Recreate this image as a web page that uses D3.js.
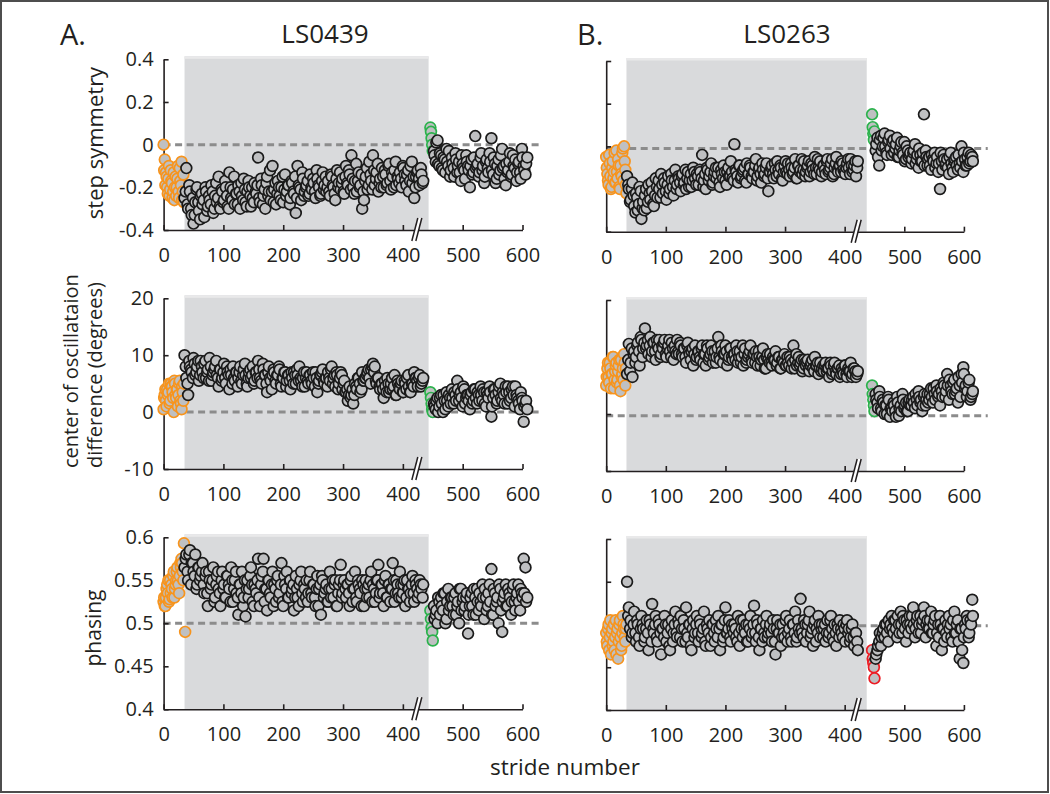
<!DOCTYPE html>
<html>
<head>
<meta charset="utf-8">
<script src="https://cdn.jsdelivr.net/npm/d3@7"></script>
<style>
  body { margin: 0; background: #fff; }
  svg { display: block; }
  text { font-family: "Open Sans", "Noto Sans", sans-serif; fill: #231f20; }
</style>
</head>
<body>
<svg id="chart" width="1050" height="794"></svg>
<script>
// stride numbering of each block of samples (two interleaved sample sets per phase)
const baseStart = 0, base2Start = 1, baseStep = 2;
const adaptStart = 35, adapt2Start = 37, adaptStep = 3;
const earlyStart = 446, earlyStep = 1;
const postStart = 452, post2Start = 453, postStep = 3;

const xTicks = [0, 100, 200, 300, 400, 500, 600];
const stepTicks = [-0.4, -0.2, 0, 0.2, 0.4];
const centerTicks = [-10, 0, 10, 20];
const phaseTicks = [0.4, 0.45, 0.5, 0.55, 0.6];

// ---- A. LS0439 step symmetry
const aStepBase = [0,-0.07,-0.13,-0.2,-0.16,-0.24,-0.12,-0.18,-0.22,-0.26,-0.15,-0.2,-0.1,-0.25,-0.17,-0.08,-0.22,-0.27];
const aStepBase2 = [-0.12,-0.19,-0.15,-0.23,-0.1,-0.21,-0.17,-0.25,-0.13,-0.2,-0.24,-0.16,-0.22,-0.11,-0.19,-0.26,-0.14];
const aStepAdapt = [
  -0.25,-0.11,-0.3,-0.22,-0.33,-0.37,-0.27,-0.2,-0.31,-0.24,
  -0.28,-0.34,-0.22,-0.29,-0.26,-0.19,-0.32,-0.24,-0.27,-0.15,
  -0.3,-0.22,-0.26,-0.2,-0.29,-0.13,-0.25,-0.21,-0.28,-0.23,
  -0.19,-0.3,-0.24,-0.16,-0.27,-0.22,-0.2,-0.29,-0.25,-0.18,
  -0.23,-0.06,-0.27,-0.19,-0.24,-0.3,-0.15,-0.22,-0.26,-0.1,
  -0.21,-0.28,-0.17,-0.24,-0.2,-0.27,-0.14,-0.22,-0.19,-0.25,
  -0.18,-0.23,-0.32,-0.1,-0.2,-0.26,-0.16,-0.22,-0.19,-0.24,
  -0.14,-0.21,-0.18,-0.25,-0.16,-0.2,-0.23,-0.13,-0.19,-0.22,
  -0.17,-0.24,-0.15,-0.2,-0.26,-0.12,-0.18,-0.21,-0.16,-0.23,
  -0.1,-0.19,-0.14,-0.05,-0.2,-0.17,-0.22,-0.13,-0.19,-0.3,
  -0.26,-0.15,-0.21,-0.08,-0.17,-0.05,-0.19,-0.13,-0.22,-0.16,
  -0.11,-0.2,-0.14,-0.18,-0.09,-0.21,-0.15,-0.12,-0.19,-0.16,
  -0.13,-0.2,-0.11,-0.17,-0.14,-0.22,-0.1,-0.18,-0.25,-0.15,
  -0.12,-0.19,-0.14,-0.17];
const aStepAdapt2 = [
  -0.22,-0.28,-0.19,-0.3,-0.25,-0.33,-0.21,-0.27,-0.35,-0.23,
  -0.26,-0.2,-0.31,-0.24,-0.28,-0.22,-0.3,-0.18,-0.25,-0.29,
  -0.21,-0.27,-0.17,-0.24,-0.3,-0.2,-0.26,-0.15,-0.23,-0.28,
  -0.22,-0.18,-0.26,-0.21,-0.29,-0.17,-0.24,-0.2,-0.27,-0.22,
  -0.19,-0.25,-0.16,-0.28,-0.21,-0.18,-0.24,-0.12,-0.22,-0.27,
  -0.18,-0.23,-0.2,-0.26,-0.15,-0.21,-0.24,-0.19,-0.28,-0.17,
  -0.22,-0.15,-0.25,-0.19,-0.21,-0.13,-0.24,-0.2,-0.17,-0.23,
  -0.2,-0.16,-0.22,-0.12,-0.19,-0.24,-0.17,-0.21,-0.15,-0.2,
  -0.22,-0.14,-0.19,-0.23,-0.16,-0.2,-0.13,-0.18,-0.22,-0.15,
  -0.18,-0.12,-0.21,-0.16,-0.23,-0.09,-0.17,-0.2,-0.14,-0.22,
  -0.17,-0.11,-0.19,-0.14,-0.21,-0.12,-0.16,-0.09,-0.18,-0.2,
  -0.15,-0.12,-0.19,-0.1,-0.17,-0.13,-0.2,-0.08,-0.15,-0.18,
  -0.16,-0.1,-0.14,-0.19,-0.12,-0.17,-0.08,-0.15,-0.2,-0.13,
  -0.16,-0.11,-0.18];
const aStepEarly = [0.08,0.06,0.03,0.0,-0.03];
const aStepPost = [
  -0.03,-0.08,0.02,-0.1,-0.05,-0.12,-0.07,-0.02,-0.1,-0.15,
  -0.06,-0.11,-0.04,-0.13,-0.08,-0.17,-0.09,-0.12,-0.05,-0.1,
  -0.2,-0.07,-0.13,0.04,-0.1,-0.15,-0.06,-0.12,-0.18,-0.08,
  -0.11,-0.04,0.03,-0.14,-0.09,-0.16,-0.07,-0.12,-0.02,-0.1,
  -0.19,-0.13,-0.08,-0.15,-0.05,-0.11,-0.17,-0.09,-0.13,-0.02,
  -0.1,-0.14,-0.06];
const aStepPost2 = [
  -0.05,0.01,-0.09,-0.04,-0.11,-0.06,-0.13,-0.08,-0.03,-0.12,
  -0.09,-0.15,-0.07,-0.1,-0.13,-0.05,-0.11,-0.16,-0.08,-0.12,
  -0.1,-0.14,-0.06,-0.11,-0.09,-0.13,-0.04,-0.1,-0.15,-0.07,
  -0.13,-0.08,-0.12,-0.06,-0.18,-0.1,-0.14,-0.05,-0.11,-0.16,
  -0.09,-0.12,-0.04,-0.14,-0.1,-0.07,-0.13,-0.08,-0.16,-0.06,
  -0.12,-0.09];

// ---- B. LS0263 step symmetry
const bStepBase = [-0.05,-0.13,-0.18,-0.08,-0.2,-0.1,-0.15,-0.03,-0.17,-0.12,-0.06,-0.19,-0.09,-0.14,-0.01,0.0,-0.11,-0.22];
const bStepBase2 = [-0.1,-0.16,-0.04,-0.14,-0.19,-0.07,-0.12,-0.17,-0.02,-0.15,-0.09,-0.2,-0.13,-0.03,-0.16,-0.07,-0.18];
const bStepAdapt = [
  -0.14,-0.2,-0.25,-0.17,-0.28,-0.22,-0.3,-0.19,-0.34,-0.26,
  -0.23,-0.29,-0.18,-0.25,-0.21,-0.28,-0.15,-0.24,-0.2,-0.13,
  -0.22,-0.17,-0.25,-0.14,-0.2,-0.16,-0.23,-0.11,-0.18,-0.15,
  -0.21,-0.13,-0.17,-0.2,-0.12,-0.16,-0.19,-0.1,-0.15,-0.13,
  -0.18,-0.12,-0.04,-0.16,-0.2,-0.11,-0.14,-0.08,-0.17,-0.12,
  -0.15,-0.1,-0.19,-0.13,-0.09,-0.16,-0.12,-0.14,-0.07,-0.15,
  0.01,-0.12,-0.17,-0.09,-0.14,-0.11,-0.16,-0.08,-0.13,-0.1,
  -0.15,-0.12,-0.06,-0.14,-0.1,-0.17,-0.11,-0.13,-0.08,-0.21,
  -0.12,-0.09,-0.15,-0.11,-0.07,-0.13,-0.1,-0.16,-0.09,-0.12,
  -0.08,-0.14,-0.1,-0.12,-0.06,-0.15,-0.09,-0.11,-0.13,-0.07,
  -0.12,-0.09,-0.14,-0.08,-0.11,-0.05,-0.13,-0.1,-0.07,-0.12,
  -0.09,-0.13,-0.06,-0.11,-0.08,-0.14,-0.1,-0.05,-0.12,-0.09,
  -0.07,-0.11,-0.13,-0.08,-0.1,-0.06,-0.12,-0.09,-0.14,-0.07];
const bStepAdapt2 = [
  -0.18,-0.26,-0.2,-0.23,-0.31,-0.24,-0.27,-0.21,-0.29,-0.3,
  -0.2,-0.26,-0.22,-0.17,-0.27,-0.23,-0.19,-0.16,-0.24,-0.18,
  -0.15,-0.21,-0.18,-0.22,-0.13,-0.19,-0.16,-0.2,-0.14,-0.17,
  -0.14,-0.18,-0.11,-0.15,-0.19,-0.13,-0.16,-0.12,-0.18,-0.14,
  -0.11,-0.15,-0.19,-0.13,-0.1,-0.16,-0.12,-0.18,-0.14,-0.1,
  -0.13,-0.17,-0.11,-0.15,-0.12,-0.18,-0.1,-0.14,-0.12,-0.16,
  -0.11,-0.14,-0.09,-0.15,-0.12,-0.1,-0.17,-0.13,-0.09,-0.14,
  -0.12,-0.09,-0.16,-0.11,-0.13,-0.08,-0.14,-0.1,-0.15,-0.12,
  -0.1,-0.13,-0.08,-0.14,-0.11,-0.09,-0.15,-0.12,-0.07,-0.13,
  -0.11,-0.08,-0.13,-0.1,-0.15,-0.09,-0.12,-0.06,-0.11,-0.14,
  -0.1,-0.07,-0.12,-0.09,-0.13,-0.1,-0.06,-0.11,-0.14,-0.09,
  -0.11,-0.07,-0.12,-0.1,-0.06,-0.13,-0.08,-0.11,-0.09,-0.12,
  -0.08,-0.12,-0.1,-0.06,-0.13,-0.09,-0.11,-0.07,-0.1];
const bStepEarly = [0.15,0.09,0.06,0.03,0.07];
const bStepPost = [
  -0.02,0.04,-0.09,0.05,0.0,0.06,-0.03,0.02,0.05,-0.04,
  0.03,-0.01,0.04,-0.05,0.0,-0.03,0.02,-0.06,-0.02,-0.04,
  -0.08,-0.03,0.01,-0.06,-0.1,-0.04,-0.07,0.15,-0.02,-0.09,
  -0.05,-0.11,-0.06,-0.03,-0.08,-0.12,-0.2,-0.07,-0.04,-0.09,
  -0.06,-0.13,-0.03,-0.1,-0.07,-0.05,-0.11,-0.08,0.0,-0.12,
  -0.06,-0.09,-0.03,-0.07,-0.05];
const bStepPost2 = [
  0.01,-0.05,0.03,-0.02,0.04,0.0,-0.04,0.03,-0.01,0.02,
  -0.03,0.01,-0.05,-0.02,0.02,-0.04,-0.07,0.0,-0.05,-0.03,
  -0.06,-0.02,-0.08,-0.04,-0.01,-0.07,-0.03,-0.09,-0.05,-0.06,
  -0.09,-0.04,-0.07,-0.1,-0.05,-0.08,-0.03,-0.11,-0.06,-0.08,
  -0.1,-0.05,-0.08,-0.12,-0.06,-0.09,-0.04,-0.1,-0.07,-0.03,
  -0.09,-0.05,-0.08,-0.04,-0.07];

// ---- A. LS0439 center of oscillation difference
const aCenterBase = [0.5,3,2,4,3.5,1.5,5,4.5,2.5,5.5,3,4,1,5,2,0.5,3.5,5];
const aCenterBase2 = [2.5,4,1,3,5,2,4.5,3.5,0,5,2.5,4,3,5.5,1.5,4.5,2];
const aCenterAdapt = [
  10,6,3,8,7,9.5,6.5,8,5.5,9,
  7,8.5,6,7.5,9.5,5.5,7,8,6.5,4.5,
  7.5,6,8.5,5,7,4,6.5,8,5.5,7,
  6,8,5,7.5,6.5,4.5,7,6,8,5.5,
  7,9,6,5,7.5,6.5,3.5,8,5.5,6.5,
  7,5,6.5,7.5,4.5,6,7,5.5,6.5,4,
  6,7,5,6.5,8,5.5,6,4.5,7,5,
  6.5,5,6,7,3.5,5.5,6.5,7.5,5,6,
  7,5.5,8,6,4.5,6.5,5,7,4,5.5,
  3.5,2,4.5,3,1.5,5,4,6,3.5,7,
  5.5,6,7,6,7.5,8.5,8,5,6,4,
  5,2.5,4.5,6,3.5,5,4,6.5,3,5,
  4,5.5,3.5,5,6,4.5,3.5,5,7,6,
  4.5,6.5,5,6];
const aCenterAdapt2 = [
  8,5,9,7.5,6,8.5,7,9,6.5,8,
  6,9,7,5.5,8,6.5,7.5,9,6,7.5,
  5.5,7,6,8,6.5,7.5,5,6,7,4.5,
  7,5.5,6.5,8.5,5,6,7.5,6.5,5,7,
  6,7.5,5.5,8.5,6.5,5,7,6,4,7.5,
  5.5,6.5,8,5,6,7,4.5,6.5,5.5,7,
  5,6.5,7.5,5.5,6,4.5,7,6,5.5,6.5,
  5.5,7,4.5,6,5,6.5,7,5.5,6,4.5,
  6,7.5,5,6.5,7,4,6,6.5,5,3.5,
  4,3,2.5,4,3,4.5,6,5,4,5.5,
  6,6.5,7.5,5,8,7,5.5,6,4.5,5,
  4,5.5,3.5,5,4,6,4.5,3,5.5,4.5,
  5,3.5,5.5,4,6.5,3.5,5,4.5,6,5.5,
  6,4.5,5.5];
const aCenterEarly = [3.5,2.5,1.5,0.5,0];
const aCenterPost = [
  1.5,0.5,2.5,1,3,0,2,3.5,1,2.5,
  4,1.5,3,5.5,2,3.5,1,4,2.5,3,
  0.5,3.5,2,4,1.5,3,4.5,2,3.5,1,
  3,4.5,-0.8,2.5,4,1.5,3.5,5,2,3,
  4.5,1.5,3.5,2.5,4.5,1,3,2,0.5,2.5,
  -1.7,1.5,0.5];
const aCenterPost2 = [
  1,2,0,2.5,1.5,3,0.5,2,3,1.5,
  2.5,3.5,2,4,3,2.5,4.5,1.5,3,2,
  3,1.5,4,2.5,3.5,2,3,4,1.5,3.5,
  2.5,3.5,1,4,3,2,4.5,2.5,3.5,1.5,
  3.5,4.5,2,4,3,4.5,2.5,1.5,3.5,2,
  1,2];

// ---- B. LS0263 center of oscillation difference
const bCenterBase = [5,8,6.5,9,4.5,7,10,6,8.5,5.5,7.5,9.5,4,6.5,8,10.5,5,7];
const bCenterBase2 = [6.5,9,5.5,8,7,10,4.5,7.5,9,6,8.5,5,9.5,7,6,9,8];
const bCenterAdapt = [
  7,12.3,9,6.5,11,10,12.5,8.5,13,11.5,
  15,12,10.5,13.5,11,12.5,9.5,12,13,10.5,
  11.5,13,10,12,11,12.5,9.5,11,13,10.5,
  12,10,11.5,9,12.5,10.5,11,8.5,12,10,
  11,9.5,12,10.5,8.5,11.5,10,12,9,11,
  10,13.5,9.5,11,10.5,12,8.5,10,11.5,9.5,
  10.5,12,9,11,10,8.5,11.5,9.5,10.5,12,
  9,10.5,11,8.5,10,9.5,11.5,8,10,9.5,
  10.5,8.5,9.5,11,9,10,8,9.5,10.5,8.5,
  9,10,8,12,9.5,8.5,10,9,7.5,9.5,
  8.5,9.5,7.5,9,8,10,8.5,7,9,8,
  7.5,9,8,6.5,8.5,7.5,9,7,8,6.5,
  8,7,8.5,6.5,7.5,9,7,8,6.5,7.5];
const bCenterAdapt2 = [
  9.5,7.5,11.5,10.5,9,12,11,13.5,10,12.5,
  11.5,13,12,10,12.5,11,13,11.5,10,12,
  12.5,10.5,11.5,13,10,11.5,12,10.5,11,12.5,
  10.5,11.5,10,12,11,9.5,11.5,10.5,9.5,11,
  10,11.5,9,10.5,12,9.5,10.5,11,10,9,
  11.5,10,12,9,10.5,11,9.5,11.5,10,10.5,
  9.5,11,10,9,12,10.5,9,10,11,9.5,
  10.5,9,10,11,8.5,10,9.5,8,10.5,9,
  9,10,9.5,8.5,10,8,9.5,9,8.5,10,
  8.5,9.5,9,8,10.5,9,8.5,9.5,8,9,
  9,8,8.5,9.5,7.5,8.5,9,8,7.5,8.5,
  8.5,7.5,8,9,7,8.5,7.5,8,8.5,7,
  7.5,8.5,7,8,7.5,6.5,8,7.5,7];
const bCenterEarly = [5,3.5,2.5,1.5,0.5];
const bCenterPost = [
  3.5,2,4,1,2.5,0,1.5,3,-0.5,1,
  2,0.5,3,-0.3,1.5,3.5,1,2,0.5,2.5,
  1.5,3,1,2.5,4,2,0.5,3,1.5,3.5,
  2.5,4.5,2,3.5,5,3,1.5,4,5.5,3,
  7,2.5,5,3.5,6,4,2,5,7,8.2,
  4.5,3,5.5,2.5,3.5];
const bCenterPost2 = [
  2.5,1,3,0.5,2,1.5,0,2.5,1,0.5,
  1.5,-0.5,2,1,0.5,2.5,1.5,0.5,2,1.5,
  2.5,2,3.5,1.5,3,2.5,1.5,3.5,2.5,2,
  3.5,3,4.5,2.5,4,3.5,4.5,3,5,4,
  5,6,4,5.5,3.5,4.5,6.5,3,5.5,7,
  5,4,6,3,4];

// ---- A. LS0439 phasing
const aPhaseBase = [0.525,0.52,0.53,0.545,0.55,0.528,0.535,0.54,0.555,0.53,0.545,0.56,0.55,0.535,0.57,0.575,0.56,0.593,0.49];
const aPhaseBase2 = [0.53,0.52,0.54,0.535,0.525,0.55,0.545,0.53,0.56,0.54,0.55,0.565,0.545,0.555,0.565,0.57,0.55];
const aPhaseAdapt = [
  0.565,0.58,0.55,0.585,0.57,0.56,0.58,0.545,0.565,0.555,
  0.57,0.535,0.56,0.52,0.55,0.545,0.565,0.53,0.555,0.54,
  0.52,0.56,0.545,0.53,0.555,0.54,0.565,0.525,0.55,0.535,
  0.51,0.545,0.56,0.53,0.508,0.55,0.54,0.565,0.525,0.545,
  0.535,0.575,0.52,0.555,0.575,0.54,0.515,0.55,0.53,0.56,
  0.545,0.525,0.555,0.535,0.57,0.52,0.545,0.56,0.53,0.55,
  0.54,0.515,0.555,0.53,0.545,0.56,0.525,0.54,0.55,0.535,
  0.56,0.53,0.545,0.52,0.555,0.54,0.51,0.55,0.535,0.545,
  0.525,0.56,0.54,0.53,0.55,0.52,0.545,0.568,0.535,0.55,
  0.53,0.545,0.52,0.555,0.54,0.56,0.525,0.545,0.535,0.55,
  0.52,0.55,0.54,0.53,0.56,0.545,0.525,0.55,0.568,0.535,
  0.545,0.52,0.555,0.53,0.545,0.54,0.57,0.525,0.55,0.535,
  0.56,0.53,0.545,0.52,0.55,0.54,0.535,0.555,0.525,0.545,
  0.53,0.55,0.54,0.545];
const aPhaseAdapt2 = [
  0.575,0.56,0.58,0.545,0.57,0.555,0.54,0.565,0.55,0.56,
  0.545,0.555,0.535,0.56,0.54,0.55,0.525,0.545,0.56,0.535,
  0.55,0.54,0.53,0.555,0.545,0.525,0.55,0.54,0.56,0.53,
  0.545,0.535,0.52,0.55,0.54,0.53,0.555,0.545,0.52,0.54,
  0.55,0.53,0.545,0.56,0.525,0.54,0.55,0.535,0.545,0.52,
  0.54,0.55,0.53,0.545,0.525,0.555,0.54,0.53,0.55,0.535,
  0.545,0.53,0.54,0.52,0.55,0.535,0.545,0.53,0.525,0.55,
  0.535,0.545,0.53,0.54,0.52,0.545,0.555,0.53,0.54,0.525,
  0.54,0.53,0.55,0.545,0.52,0.535,0.55,0.53,0.545,0.54,
  0.545,0.535,0.55,0.525,0.54,0.53,0.55,0.54,0.52,0.545,
  0.54,0.53,0.545,0.55,0.525,0.54,0.535,0.55,0.53,0.545,
  0.535,0.55,0.53,0.545,0.525,0.54,0.55,0.535,0.545,0.53,
  0.545,0.535,0.55,0.53,0.54,0.525,0.545,0.535,0.55,0.54,
  0.535,0.545,0.53];
const aPhaseEarly = [0.515,0.505,0.495,0.49,0.48];
const aPhasePost = [
  0.52,0.51,0.5,0.525,0.53,0.515,0.535,0.505,0.54,0.52,
  0.53,0.51,0.535,0.52,0.5,0.54,0.525,0.515,0.53,0.488,
  0.52,0.535,0.51,0.53,0.54,0.515,0.525,0.545,0.505,0.53,
  0.52,0.545,0.563,0.51,0.535,0.525,0.5,0.54,0.49,0.53,
  0.545,0.52,0.535,0.51,0.54,0.525,0.53,0.545,0.515,0.535,
  0.575,0.565,0.53];
const aPhasePost2 = [
  0.505,0.515,0.53,0.51,0.52,0.535,0.5,0.525,0.515,0.53,
  0.52,0.53,0.51,0.525,0.54,0.515,0.53,0.52,0.535,0.51,
  0.53,0.52,0.54,0.51,0.525,0.535,0.52,0.53,0.54,0.515,
  0.535,0.525,0.51,0.54,0.52,0.53,0.545,0.515,0.525,0.535,
  0.52,0.54,0.53,0.525,0.545,0.515,0.535,0.525,0.54,0.53,
  0.535,0.525];

// ---- B. LS0263 phasing
const bPhaseBase = [0.49,0.475,0.5,0.485,0.465,0.495,0.48,0.47,0.505,0.49,0.46,0.5,0.485,0.475,0.51,0.495,0.48,0.5];
const bPhaseBase2 = [0.48,0.495,0.47,0.505,0.49,0.475,0.5,0.485,0.465,0.495,0.48,0.505,0.47,0.49,0.5,0.485,0.495];
const bPhaseAdapt = [
  0.55,0.52,0.505,0.49,0.515,0.48,0.5,0.475,0.51,0.495,
  0.485,0.505,0.47,0.5,0.524,0.49,0.51,0.48,0.5,0.465,
  0.495,0.51,0.48,0.5,0.47,0.505,0.49,0.515,0.485,0.5,
  0.51,0.48,0.495,0.52,0.485,0.5,0.47,0.505,0.49,0.51,
  0.48,0.5,0.49,0.515,0.475,0.495,0.505,0.485,0.5,0.48,
  0.495,0.51,0.47,0.5,0.485,0.52,0.49,0.505,0.48,0.495,
  0.5,0.485,0.51,0.475,0.495,0.505,0.49,0.48,0.5,0.51,
  0.49,0.522,0.48,0.5,0.47,0.495,0.505,0.485,0.51,0.49,
  0.5,0.48,0.495,0.465,0.505,0.49,0.475,0.5,0.485,0.51,
  0.49,0.505,0.48,0.5,0.515,0.485,0.495,0.53,0.49,0.505,
  0.48,0.5,0.515,0.49,0.475,0.505,0.495,0.51,0.485,0.5,
  0.495,0.48,0.505,0.49,0.51,0.485,0.5,0.475,0.495,0.505,
  0.49,0.5,0.48,0.505,0.495,0.485,0.5,0.475,0.49,0.47];
const bPhaseAdapt2 = [
  0.51,0.495,0.485,0.5,0.49,0.505,0.485,0.495,0.5,0.48,
  0.495,0.49,0.505,0.48,0.495,0.5,0.485,0.505,0.49,0.495,
  0.485,0.5,0.49,0.475,0.495,0.48,0.5,0.49,0.505,0.485,
  0.495,0.505,0.48,0.49,0.5,0.475,0.495,0.485,0.5,0.49,
  0.505,0.485,0.495,0.48,0.5,0.49,0.475,0.5,0.49,0.505,
  0.485,0.495,0.5,0.48,0.505,0.49,0.495,0.485,0.5,0.49,
  0.495,0.48,0.49,0.505,0.485,0.495,0.5,0.48,0.495,0.485,
  0.5,0.49,0.505,0.485,0.495,0.48,0.49,0.5,0.485,0.495,
  0.49,0.505,0.48,0.495,0.49,0.5,0.485,0.49,0.505,0.48,
  0.495,0.485,0.5,0.49,0.48,0.505,0.49,0.495,0.485,0.5,
  0.49,0.505,0.485,0.495,0.5,0.48,0.49,0.5,0.495,0.485,
  0.5,0.49,0.485,0.505,0.495,0.48,0.49,0.5,0.485,0.495,
  0.485,0.495,0.5,0.49,0.48,0.495,0.485,0.49,0.48];
const bPhaseEarly = [0.47,0.46,0.455,0.45,0.437];
const bPhasePost = [
  0.46,0.47,0.48,0.475,0.49,0.485,0.5,0.48,0.495,0.51,
  0.49,0.505,0.485,0.5,0.515,0.49,0.505,0.48,0.5,0.51,
  0.495,0.52,0.485,0.505,0.49,0.51,0.5,0.52,0.485,0.505,
  0.495,0.515,0.49,0.505,0.475,0.5,0.51,0.47,0.495,0.505,
  0.485,0.51,0.5,0.48,0.515,0.49,0.505,0.46,0.495,0.455,
  0.5,0.51,0.485,0.505,0.529];
const bPhasePost2 = [
  0.465,0.475,0.49,0.485,0.495,0.5,0.49,0.505,0.5,0.495,
  0.505,0.495,0.51,0.49,0.5,0.51,0.495,0.505,0.49,0.5,
  0.51,0.5,0.495,0.51,0.5,0.49,0.505,0.51,0.5,0.495,
  0.505,0.49,0.5,0.51,0.49,0.485,0.5,0.495,0.48,0.49,
  0.5,0.495,0.485,0.505,0.49,0.5,0.48,0.495,0.47,0.485,
  0.495,0.505,0.49,0.5,0.51];

const ORANGE = "#f7941d", GREEN = "#2bb24c", RED = "#ed1c24";
const INK = "#231f20", DOT_EDGE = "#1a1a1a";

const colA = { x0: 163.6, x1: 522.5, shade: [35, 443], brk: 425, refEnd: 631, labels: true };
const colB = { x0: 606.2, x1: 963.9, shade: [34, 437], brk: 421, refEnd: 640, labels: false };

const panels = [
  { col: colA, yT: 59.3, yB: 230,   dom: [-0.4, 0.4], ticks: stepTicks,   ref: 0,
    base: [aStepBase, aStepBase2], adapt: [aStepAdapt, aStepAdapt2], early: aStepEarly, post: [aStepPost, aStepPost2], earlyColor: GREEN },
  { col: colB, yT: 61,   yB: 231.7, dom: [-0.4, 0.4], ticks: stepTicks,   ref: -0.01,
    base: [bStepBase, bStepBase2], adapt: [bStepAdapt, bStepAdapt2], early: bStepEarly, post: [bStepPost, bStepPost2], earlyColor: GREEN },
  { col: colA, yT: 298.3, yB: 469,  dom: [-10, 20],   ticks: centerTicks, ref: 0,
    base: [aCenterBase, aCenterBase2], adapt: [aCenterAdapt, aCenterAdapt2], early: aCenterEarly, post: [aCenterPost, aCenterPost2], earlyColor: GREEN },
  { col: colB, yT: 300,  yB: 471,   dom: [-10, 20],   ticks: centerTicks, ref: -0.3,
    base: [bCenterBase, bCenterBase2], adapt: [bCenterAdapt, bCenterAdapt2], early: bCenterEarly, post: [bCenterPost, bCenterPost2], earlyColor: GREEN },
  { col: colA, yT: 537.3, yB: 709.3, dom: [0.4, 0.6], ticks: phaseTicks,  ref: 0.5,
    base: [aPhaseBase, aPhaseBase2], adapt: [aPhaseAdapt, aPhaseAdapt2], early: aPhaseEarly, post: [aPhasePost, aPhasePost2], earlyColor: GREEN },
  { col: colB, yT: 539,  yB: 710,   dom: [0.4, 0.6],  ticks: phaseTicks,  ref: 0.4985,
    base: [bPhaseBase, bPhaseBase2], adapt: [bPhaseAdapt, bPhaseAdapt2], early: bPhaseEarly, post: [bPhasePost, bPhasePost2], earlyColor: RED }
];

const svg = d3.select("#chart");

svg.append("rect")
  .attr("x", 1).attr("y", 1)
  .attr("width", 1047).attr("height", 791)
  .attr("fill", "#fff")
  .attr("stroke", "#4d4d4d")
  .attr("stroke-width", 2);

function toPoints(values, start, step, stroke) {
  return values.map((v, i) => ({ s: start + i * step, v: v, stroke: stroke }));
}

panels.forEach(p => {
  const c = p.col;
  const xs = d3.scaleLinear().domain([0, 600]).range([c.x0, c.x1]);
  const ys = d3.scaleLinear().domain(p.dom).range([p.yB, p.yT]);
  const g = svg.append("g");

  // adaptation shading
  const sx = xs(c.shade[0]), sw = xs(c.shade[1]) - xs(c.shade[0]);
  g.append("rect")
    .attr("x", sx).attr("y", p.yT - 3)
    .attr("width", sw).attr("height", p.yB - p.yT + 3)
    .attr("fill", "#d9dadc");
  g.append("rect")
    .attr("x", sx).attr("y", p.yT - 3)
    .attr("width", sw).attr("height", 2.5)
    .attr("fill", "#e9e9ea");

  // reference line
  g.append("line")
    .attr("x1", xs(0)).attr("x2", xs(c.refEnd))
    .attr("y1", ys(p.ref)).attr("y2", ys(p.ref))
    .attr("stroke", "#8c8c8c")
    .attr("stroke-width", 3)
    .attr("stroke-dasharray", "7,4.5");

  // axes
  const yAxis = d3.axisLeft(ys)
    .tickValues(p.ticks)
    .tickSizeInner(-5).tickSizeOuter(0).tickPadding(10)
    .tickFormat(c.labels ? (d => String(d)) : "");
  const xAxis = d3.axisBottom(xs)
    .tickValues(xTicks)
    .tickSizeInner(-5).tickSizeOuter(0).tickPadding(18)
    .tickFormat(d => String(d));

  const ya = g.append("g").attr("transform", `translate(${c.x0},0)`).call(yAxis);
  const xa = g.append("g").attr("transform", `translate(0,${p.yB})`).call(xAxis);
  [ya, xa].forEach(a => {
    a.selectAll("path.domain").attr("stroke", INK).attr("stroke-width", 1.6);
    a.selectAll(".tick line").attr("stroke", INK).attr("stroke-width", 1.6);
    a.selectAll("text").attr("font-size", 20).attr("fill", INK)
      .attr("font-family", '"Open Sans", "Noto Sans", sans-serif');
  });

  // axis break mark
  const bx = xs(c.brk), by = p.yB;
  g.append("path")
    .attr("d", `M${bx - 6},${by + 11}L${bx},${by - 12}L${bx + 4},${by - 12}L${bx - 2},${by + 11}Z`)
    .attr("fill", "#fff");
  [0, 4].forEach(o => {
    g.append("line")
      .attr("x1", bx - 6 + o).attr("y1", by + 11)
      .attr("x2", bx + o).attr("y2", by - 12)
      .attr("stroke", INK).attr("stroke-width", 1.5);
  });

  // strides, drawn in stride order
  const pts = [].concat(
    toPoints(p.base[0], baseStart, baseStep, ORANGE),
    toPoints(p.base[1], base2Start, baseStep, ORANGE),
    toPoints(p.adapt[0], adaptStart, adaptStep, DOT_EDGE),
    toPoints(p.adapt[1], adapt2Start, adaptStep, DOT_EDGE),
    toPoints(p.early, earlyStart, earlyStep, p.earlyColor),
    toPoints(p.post[0], postStart, postStep, DOT_EDGE),
    toPoints(p.post[1], post2Start, postStep, DOT_EDGE)
  ).sort((a, b) => a.s - b.s);

  g.append("g").selectAll("circle")
    .data(pts)
    .join("circle")
    .attr("cx", d => xs(d.s))
    .attr("cy", d => ys(d.v))
    .attr("r", 5.4)
    .attr("fill", "#bfc0c2")
    .attr("stroke", d => d.stroke)
    .attr("stroke-width", 1.7);
});

// titles and labels
svg.append("text").attr("x", 60).attr("y", 45).attr("font-size", 29).text("A.");
svg.append("text").attr("x", 577).attr("y", 45).attr("font-size", 29).text("B.");
svg.append("text").attr("x", 325).attr("y", 43).attr("font-size", 26).attr("text-anchor", "middle").text("LS0439");
svg.append("text").attr("x", 787).attr("y", 43).attr("font-size", 26).attr("text-anchor", "middle").text("LS0263");

function yLabel(x, y, txt, anchor, size) {
  svg.append("text")
    .attr("transform", `translate(${x},${y}) rotate(-90)`)
    .attr("font-size", size)
    .attr("text-anchor", anchor)
    .text(txt);
}
yLabel(103, 143, "step symmetry", "middle", 22);
yLabel(78, 468, "center of oscillataion", "start", 20);
yLabel(102, 468, "difference (degrees)", "start", 20);
yLabel(101, 628, "phasing", "middle", 21);

svg.append("text")
  .attr("x", 565).attr("y", 775)
  .attr("font-size", 22.5)
  .attr("text-anchor", "middle")
  .text("stride number");
</script>
</body>
</html>
